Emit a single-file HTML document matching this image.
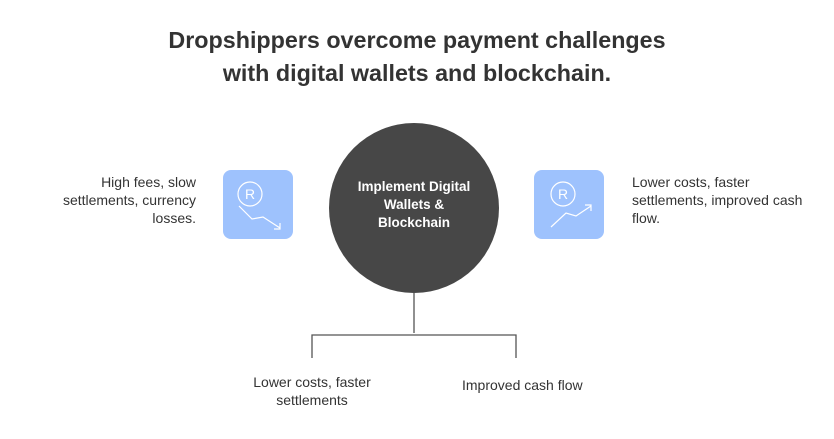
<!DOCTYPE html>
<html><head><style>
body{margin:0;width:834px;height:439px;background:#fff;font-family:"Liberation Sans",sans-serif;position:relative;overflow:hidden}
.t{position:absolute;left:0;width:834px;text-align:center;top:24px;font-size:23.3px;font-weight:bold;color:#333;line-height:33px}
.x{position:absolute;font-size:14px;color:#333;line-height:18px}
</style></head><body>
<div class="t">Dropshippers overcome payment challenges<br>with digital wallets and blockchain.</div>
<svg width="834" height="439" style="position:absolute;left:0;top:0">
<circle cx="414" cy="208" r="85" fill="#474747"/>
<path d="M414 293V333M312 358V335H516V358" stroke="#555" stroke-width="1.3" fill="none"/>
<rect x="223" y="170" width="70" height="69" rx="8" fill="#9ec2fd"/>
<rect x="534" y="170" width="70" height="69" rx="8" fill="#9ec2fd"/>
<g stroke="#fff" stroke-width="1.2" fill="none">
<circle cx="250" cy="194" r="12"/><path d="M239 206L252 219L263 217L280 228M274 229H280V223"/>
<circle cx="563" cy="194" r="12"/><path d="M551 227L566 213L576 216L591 206M585 205H591V211"/>
</g>
<text x="250" y="199" fill="#fff" font-size="14" text-anchor="middle" font-family="Liberation Sans">R</text>
<text x="563" y="199" fill="#fff" font-size="14" text-anchor="middle" font-family="Liberation Sans">R</text>
</svg>
<div class="x" style="left:330px;width:168px;top:178px;text-align:center;color:#fff;font-weight:bold;font-size:13.5px">Implement Digital<br>Wallets &amp;<br>Blockchain</div>
<div class="x" style="left:40px;width:156px;top:173px;text-align:right">High fees, slow settlements, currency losses.</div>
<div class="x" style="left:632px;width:185px;top:173px">Lower costs, faster settlements, improved cash flow.</div>
<div class="x" style="left:240px;width:144px;top:373px;text-align:center">Lower costs, faster settlements</div>
<div class="x" style="left:462px;top:376px">Improved cash flow</div>
</body></html>
